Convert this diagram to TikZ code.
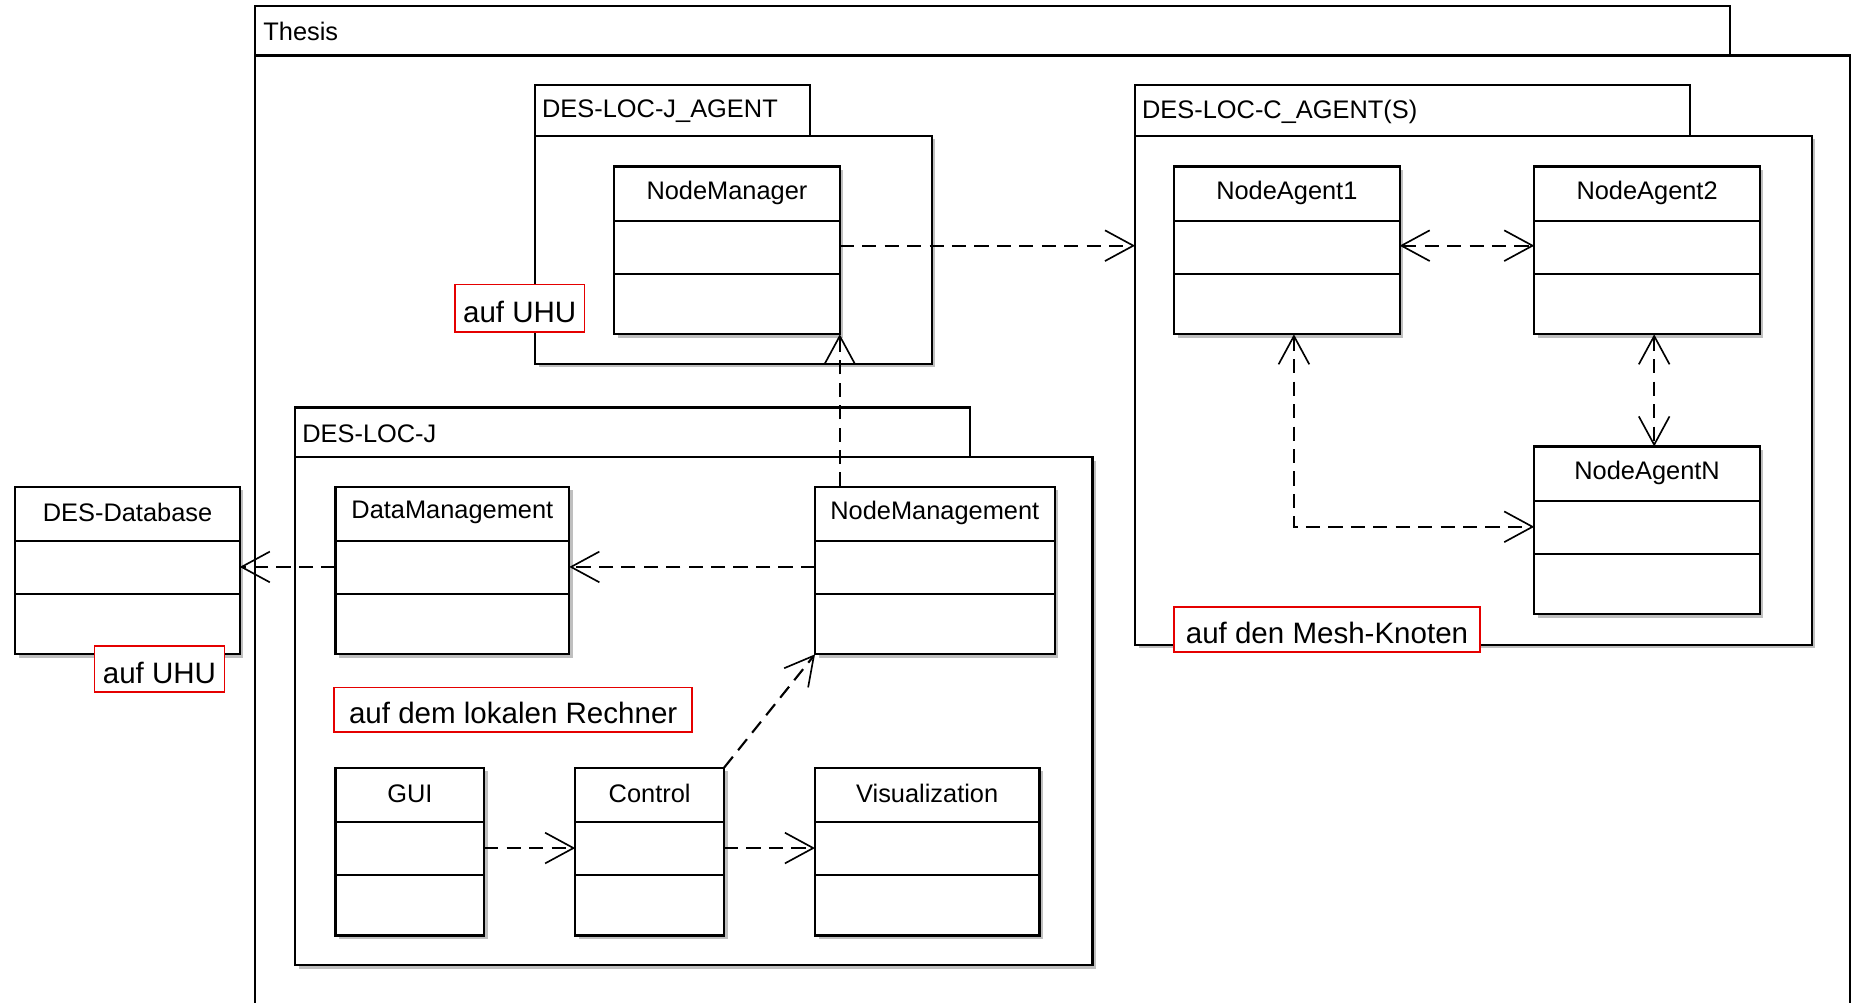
\documentclass[tikz,border=0pt]{standalone}
\usepackage{fontspec}
\setmainfont{Liberation Sans}
\usetikzlibrary{arrows.meta}

% class box: name, left, top, right, title
\newcommand\umlclass[5]{%
  \pgfmathsetlengthmacro\clsw{#4-#2}%
  \fill[shadowfill] (#2+3,#3+3) rectangle (#4+3,#3+145);
  \node[outline, anchor=north west, minimum width=\clsw, minimum height=142pt] (#1) at (#2,#3) {};
  \draw[divider] ([yshift=-46pt]#1.north west) -- ([yshift=-46pt]#1.north east);
  \draw[divider] ([yshift=-91pt]#1.north west) -- ([yshift=-91pt]#1.north east);
  \node at ([yshift=-22pt]#1.north) {#5};
}

% package: name, left, tab top, tab right, body top, body right, body bottom, title
\newcommand\umlpkg[8]{%
  \pgfmathsetlengthmacro\pkgw{#6-#2}%
  \pgfmathsetlengthmacro\pkgh{#7-#5}%
  \fill[shadowfill] (#2+3,#5+3) rectangle (#6+3,#7+3);
  \draw[outline] (#2,#3) rectangle (#4,#5);
  \node[outline, anchor=north west, minimum width=\pkgw, minimum height=\pkgh] (#1) at (#2,#5) {};
  \node[anchor=west] at (#2+6,{(#3+#5)/2+1}) {#8};
}

% red location note: name, centre x, centre y, width, height, text
\newcommand\locnote[6]{%
  \node[note, minimum width=#4pt, minimum height=#5pt] (#1) at (#2,#3) {};
  \node[notetext] at ([yshift=-3pt]#1.center) {#6};
}

\begin{document}
\begin{tikzpicture}[x=1pt,y=-1pt,
  every node/.style={font=\fontsize{21.5}{26}\selectfont, inner sep=0pt, outer sep=0pt},
  outline/.style={draw=black, line width=1.9pt, fill=white},
  divider/.style={line width=1.7pt},
  shadowfill/.style={fill=black!25},
  note/.style={draw=red!90!black, line width=1.4pt, fill=white},
  notetext/.style={font=\fontsize{25}{30}\selectfont},
  dep/.style={line width=1.8pt, dash pattern=on 12pt off 7pt, -{Straight Barb[length=24pt,width=26pt,line width=1.4pt]}},
  bidep/.style={line width=1.8pt, dash pattern=on 12pt off 7pt, {Straight Barb[length=24pt,width=26pt,line width=1.4pt]}-{Straight Barb[length=24pt,width=26pt,line width=1.4pt]}}
]
\useasboundingbox (0,0) rectangle (1568,849);

% outer package, cut off at right and bottom
\draw[outline] (216,5) rectangle (1465,47);
\draw[line width=1.9pt] (216,849) -- (216,47) -- (1566.5,47) -- (1566.5,849);
\node[anchor=west] (thesis) at (223,27) {Thesis};

% inner packages
\umlpkg{agentpkg}{453}{72}{686}{115}{789}{308}{DES-LOC-J\_AGENT}
\umlpkg{agents}{961}{72}{1431}{115}{1534}{546}{DES-LOC-C\_AGENT(S)}
\umlpkg{locj}{250}{345}{821}{387}{925}{817}{DES-LOC-J}

% classes
\umlclass{nmgr}{520}{141}{711}{NodeManager}
\umlclass{na1}{994}{141}{1185}{NodeAgent1}
\umlclass{na2}{1299}{141}{1490}{NodeAgent2}
\umlclass{naN}{1299}{378}{1490}{NodeAgentN}
\umlclass{db}{13}{412}{203}{DES-Database}
\umlclass{dmgmt}{284}{412}{482}{DataManagement}
\umlclass{nmgmt}{690}{412}{893}{NodeManagement}
\umlclass{gui}{284}{650}{410}{GUI}
\umlclass{ctrl}{487}{650}{613}{Control}
\umlclass{vis}{690}{650}{880}{Visualization}

% dependencies
\draw[dep] ([yshift=4pt]nmgr.east) -- ([yshift=4pt]nmgr.east -| agents.west);
\draw[bidep] ([yshift=4pt]na1.east) -- ([yshift=4pt]na2.west);
\draw[bidep] ([xshift=6pt]na2.south) -- ([xshift=6pt]na2.south |- naN.north);
\draw[bidep] ([xshift=6pt]na1.south) |- ([yshift=3pt]naN.west);
\draw[dep] (nmgmt.north -| nmgr.south east) -- (nmgr.south east);
\draw[dep] ([yshift=3pt]nmgmt.west) -- ([yshift=3pt]dmgmt.east);
\draw[dep] ([yshift=3pt]dmgmt.west) -- ([yshift=3pt]db.east);
\draw[dep] (ctrl.north east) -- (nmgmt.south west);
\draw[dep] ([yshift=3pt]gui.east) -- ([yshift=3pt]ctrl.west);
\draw[dep] ([yshift=3pt]ctrl.east) -- ([yshift=3pt]vis.west);

% location notes
\locnote{uhu1}{440}{261}{110}{40}{auf UHU}
\locnote{uhu2}{135}{566.5}{110}{39}{auf UHU}
\locnote{local}{434.5}{601}{303}{38}{auf dem lokalen Rechner}
\locnote{mesh}{1123.5}{533}{259}{38}{auf den Mesh-Knoten}
\end{tikzpicture}
\end{document}
